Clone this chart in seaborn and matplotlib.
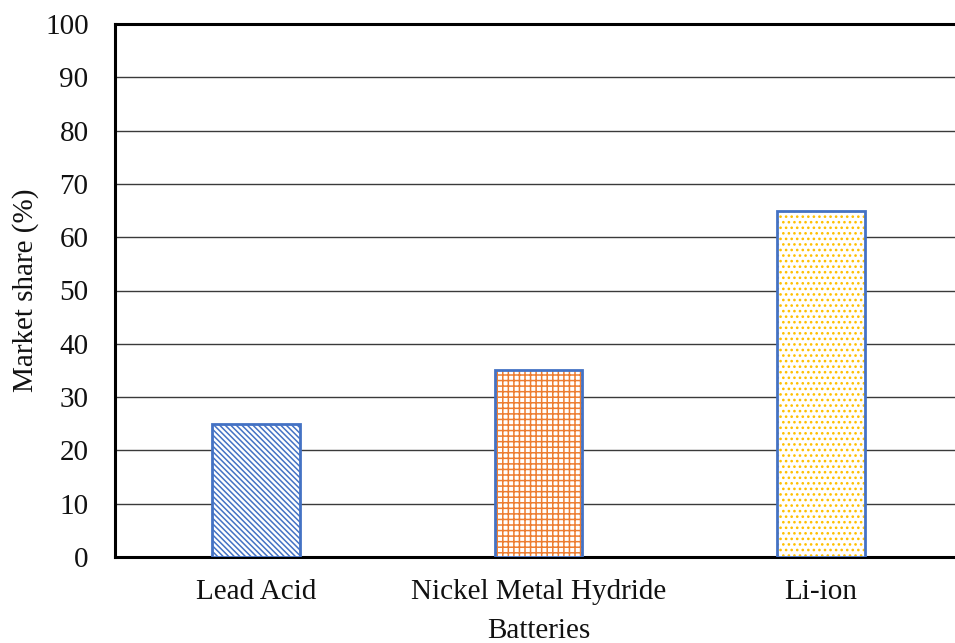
import pandas as pd
import seaborn as sns
import matplotlib.pyplot as plt

# Datos del grafico
batteries = ['Lead Acid', 'Nickel Metal Hydride', 'Li-ion']
market_share = [25, 35, 65]
hatch_colors = ['#4472C4', '#ED7D31', '#FFC000']
hatches = ['\\' * 6, '+' * 3, '.' * 3]
yticks = list(range(0, 101, 10))

df = pd.DataFrame({'Batteries': batteries, 'Market share (%)': market_share})

sns.set_style('white')
plt.rcParams['font.family'] = ['Liberation Serif', 'DejaVu Serif']
plt.rcParams['hatch.linewidth'] = 1.1

fig = plt.figure(figsize=(9.55, 6.43), dpi=100)
ax = fig.add_axes([115 / 955, 1 - 557 / 643, (962 - 115) / 955, (557 - 24) / 643])

# relleno con tramas
sns.barplot(data=df, x='Batteries', y='Market share (%)', color='white',
            width=0.31, linewidth=0, ax=ax, zorder=3)
for patch, h, c in zip(ax.patches, hatches, hatch_colors):
    patch.set_facecolor('white')
    patch.set_hatch(h)
    patch.set_edgecolor(c)
    patch.set_linewidth(0)

# contorno azul
sns.barplot(data=df, x='Batteries', y='Market share (%)', fill=False,
            edgecolor='#4472C4', width=0.31, linewidth=2, ax=ax, zorder=4)

ax.set_ylim(0, 100)
ax.set_xlim(-0.5, 2.5)
ax.set_yticks(yticks)
ax.yaxis.grid(True, color='#3a3a3a', linewidth=1.0, zorder=0)
ax.set_axisbelow(True)

for side in ['left', 'bottom', 'top']:
    ax.spines[side].set_visible(True)
    ax.spines[side].set_color('black')
    ax.spines[side].set_linewidth(2.2)
ax.spines['right'].set_visible(False)

ax.tick_params(axis='both', length=0, labelsize=21, colors='#111111')
ax.tick_params(axis='y', pad=19)
ax.tick_params(axis='x', pad=15.5)
ax.set_xlabel('Batteries', fontsize=21, labelpad=9.5, color='#111111')
ax.set_ylabel('Market share (%)', fontsize=21, labelpad=4.5, color='#111111')

fig.savefig('out.png', dpi=100)
